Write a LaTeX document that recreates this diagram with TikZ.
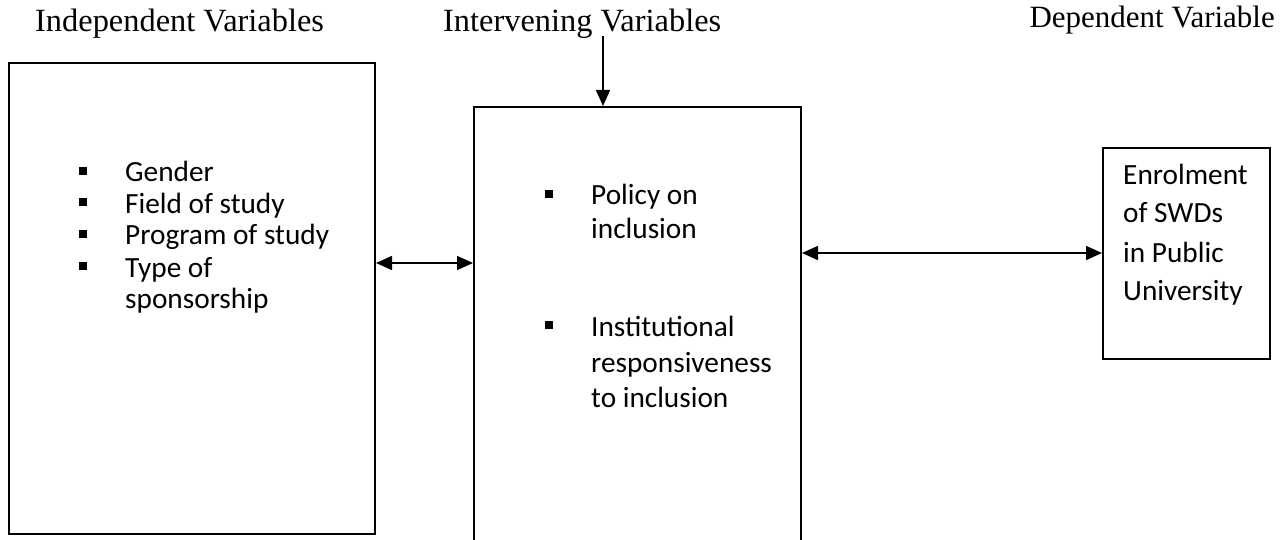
\documentclass[tikz,border=0pt]{standalone}
\usepackage{fontspec}
\setmainfont{Liberation Serif}
\newfontfamily\bodyfam{Carlito}
\usetikzlibrary{arrows.meta}
\tikzset{
  head/.style={font=\fontsize{32.4}{38}\selectfont, inner sep=0},
  body/.style={font=\bodyfam\fontsize{29.3}{34}\selectfont, inner sep=0, anchor=base west},
  box/.style={draw, line width=2pt, inner sep=0, anchor=north west},
  bul/.style={fill, minimum size=8pt, inner sep=0},
  dbl/.style={line width=1.6pt, {Triangle[length=16pt,width=14pt]}-{Triangle[length=16pt,width=14pt]}},
  sgl/.style={line width=1.6pt, -{Triangle[length=16pt,width=14pt]}},
}
\begin{document}
\begin{tikzpicture}[x=1pt,y=-1pt]
\clip (0,0) rectangle (1288,540);
% headings
\node[head, anchor=base west] (hind) at (35,32) {Independent Variables};
\node[head, anchor=base west] (hint) at (443,32) {Intervening Variables};
\node[head, anchor=base east, font=\fontsize{31}{36}\selectfont] (hdep) at (1275,28) {Dependent Variable};
% boxes
\node[box, minimum width=366pt, minimum height=471pt] (left) at (8,62) {};
\node[box, minimum width=327pt, minimum height=470pt] (mid) at (473,106) {};
\node[box, minimum width=167pt, minimum height=211pt] (right) at (1102,147) {};
% left list
\node[bul] (lb1) at (83,171) {};
\node[body] (lt1) at (125,182) {Gender};
\node[bul] (lb2) at (83,202) {};
\node[body] (lt2) at (125,213.5) {Field of study};
\node[bul] (lb3) at (83,234) {};
\node[body] (lt3) at (125,245) {Program of study};
\node[bul] (lb4) at (83,266) {};
\node[body] (lt4) at (125,277) {Type of};
\node[body] (lt5) at (125,308.5) {sponsorship};
% middle list
\node[bul] (mb1) at (549,194) {};
\node[body] (mt1) at (591,205) {Policy on};
\node[body] (mt2) at (591,239) {inclusion};
\node[bul] (mb2) at (549,325) {};
\node[body] (mt3) at (591,336) {Institutional};
\node[body] (mt4) at (591,372) {responsiveness};
\node[body] (mt5) at (591,407) {to inclusion};
% right text
\node[body] (rt1) at (1123,185) {Enrolment};
\node[body] (rt2) at (1123,223) {of SWDs};
\node[body] (rt3) at (1123,262) {in Public};
\node[body] (rt4) at (1123,300) {University};
% connectors
\coordinate (itop) at (603,36);
\draw[sgl] (itop) -- (itop |- mid.north);
\coordinate (ly) at (0,263);
\draw[dbl] (left.east |- ly) -- (mid.west |- ly);
\coordinate (ry) at (0,253);
\draw[dbl] (mid.east |- ry) -- (right.west |- ry);
\end{tikzpicture}
\end{document}
